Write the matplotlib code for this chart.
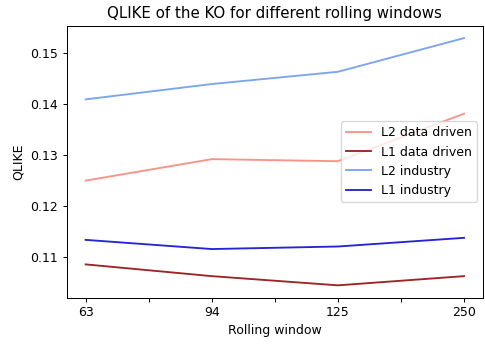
import matplotlib
matplotlib.use("Agg")
import matplotlib.pyplot as plt

windows = ["63", "94", "125", "250"]
l2_data_driven = [0.1250, 0.1292, 0.1288, 0.1381]
l1_data_driven = [0.1086, 0.1063, 0.1045, 0.1063]
l2_industry = [0.1409, 0.1439, 0.1463, 0.1529]
l1_industry = [0.1134, 0.1116, 0.1121, 0.1138]

dpi = 90
fig = plt.figure(figsize=(485 / dpi, 345 / dpi), dpi=dpi)
ax = fig.add_axes([66.7 / 485, 1 - 297.7 / 345, (483 - 66.7) / 485, (297.7 - 25.7) / 345])

x = list(range(len(windows)))
a = 0.85
ax.plot(x, l2_data_driven, color="salmon", label="L2 data driven", lw=1.5, alpha=a)
ax.plot(x, l1_data_driven, color="darkred", label="L1 data driven", lw=1.5, alpha=a)
ax.plot(x, l2_industry, color="cornflowerblue", label="L2 industry", lw=1.5, alpha=a)
ax.plot(x, l1_industry, color="mediumblue", label="L1 industry", lw=1.5, alpha=a)

ticks = [i * 0.5 for i in range(7)]
labels = []
for i in range(7):
    labels.append(windows[i // 2] if i % 2 == 0 else "")
ax.set_xticks(ticks)
ax.set_xticklabels(labels)
ax.set_yticks([0.11, 0.12, 0.13, 0.14, 0.15])
ax.tick_params(labelsize=10)

ax.set_xlabel("Rolling window", fontsize=10)
ax.set_ylabel("QLIKE", fontsize=10)
ax.set_title("QLIKE of the KO for different rolling windows", fontsize=12)
ax.legend(loc="center right", fontsize=10)

fig.savefig("out.png", dpi=dpi)
